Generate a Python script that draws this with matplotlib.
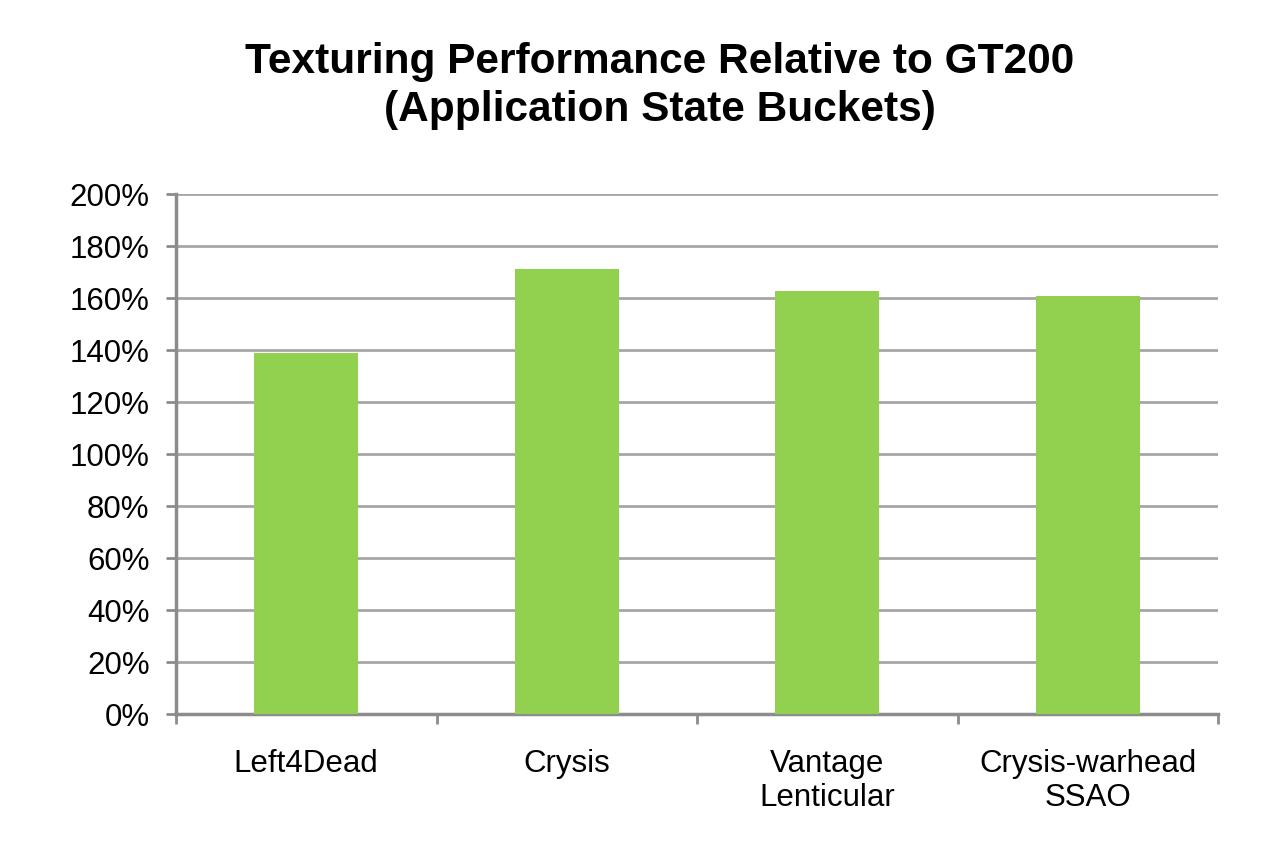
import matplotlib
matplotlib.use("Agg")
import matplotlib.pyplot as plt
from matplotlib.ticker import FuncFormatter, FixedLocator
import numpy as np

plt.rcParams['font.family'] = ['Liberation Sans', 'DejaVu Sans']

categories = ["Left4Dead", "Crysis", "Vantage\nLenticular", "Crysis-warhead\nSSAO"]
values = [139, 171.3, 162.7, 160.8]
title = "Texturing Performance Relative to GT200\n(Application State Buckets)"

fig = plt.figure(figsize=(12.8, 8.56), dpi=100)
ax = fig.add_axes([176/1280, 1 - 714/856, (1218-176)/1280, (714-194)/856])

x = np.arange(len(categories))
ax.bar(x, values, width=0.4, color="#92D050", zorder=3)

ax.set_xlim(-0.5, len(categories) - 0.5)
ax.set_ylim(0, 200)
ax.set_yticks(np.arange(0, 201, 20))
ax.yaxis.set_major_formatter(FuncFormatter(lambda v, p: f"{int(v)}%"))
ax.yaxis.grid(True, color="#A6A6A6", linewidth=2, zorder=1)
ax.set_axisbelow(True)

ax.set_xticks(x)
ax.set_xticklabels(categories, fontsize=22.5, linespacing=1.2)
ax.tick_params(axis='x', length=0, pad=25)
ax.xaxis.set_minor_locator(FixedLocator(np.arange(-0.5, len(categories), 1.0)))
ax.tick_params(axis='x', which='minor', length=7, width=2, color="#8C8C8C")
ax.tick_params(axis='y', labelsize=22.5, length=7, width=2, color="#8C8C8C", pad=12)

for s in ['top', 'right']:
    ax.spines[s].set_visible(False)
for s in ['left', 'bottom']:
    ax.spines[s].set_color("#8C8C8C")
    ax.spines[s].set_linewidth(2.5)

fig.text(660/1280, 1 - 86/856, title, ha='center', va='center', fontsize=30.5,
         fontweight='bold', linespacing=1.25)

fig.savefig("out.png", dpi=100, facecolor="white")
